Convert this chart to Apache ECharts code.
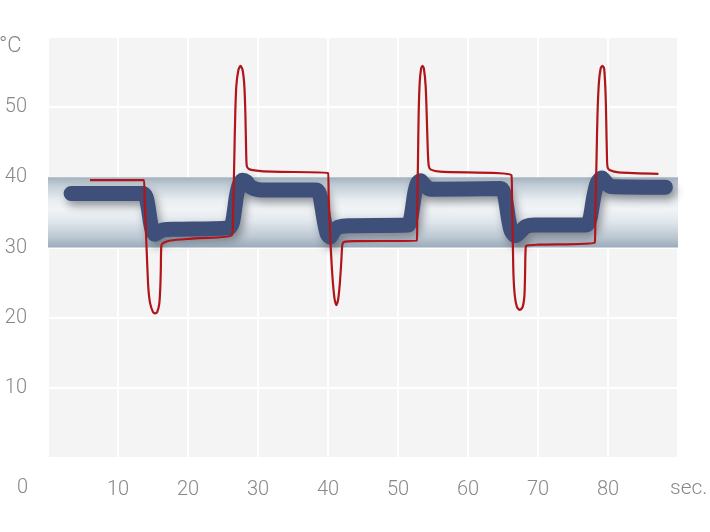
<!DOCTYPE html>
<html>
<head>
<meta charset="utf-8">
<script src="https://cdn.jsdelivr.net/npm/echarts@6/dist/echarts.min.js"></script>
<style>
html,body{margin:0;padding:0;background:#fff;}
#c{width:710px;height:532px;}
</style>
</head>
<body>
<div id="c"></div>
<script>
// Tick labels
var xTicks = [10, 20, 30, 40, 50, 60, 70, 80];
var yTicks = [10, 20, 30, 40, 50];
var yUnit = '°C';
var xUnit = 'sec.';
var zeroLabel = '0';

// Tolerance band (°C)
var bandLow = 30;
var bandHigh = 40;

// Controlled temperature (thick blue) [sec, °C]
var blueLine = [
  [3.3,37.7],[13.5,37.7],[14.0,37.2],[14.3,35.8],[14.6,33.8],[14.9,32.4],[15.3,31.9],[15.8,32.2],[16.5,32.5],[18.0,32.6],
  [25.8,32.8],[26.3,33.4],[26.6,35.0],[26.9,37.2],[27.3,38.9],[27.8,39.6],[28.3,39.4],[29.0,38.6],[30.5,38.2],
  [38.3,38.2],[38.8,37.6],[39.1,36.0],[39.5,33.6],[39.9,31.9],[40.3,31.5],[40.8,32.3],[41.5,32.9],[43.0,33.1],
  [51.4,33.2],[51.8,34.0],[52.1,35.8],[52.4,37.8],[52.8,39.2],[53.2,39.5],[53.8,38.9],[54.6,38.3],
  [64.7,38.4],[65.2,37.6],[65.5,36.0],[65.8,34.0],[66.2,32.3],[66.8,31.7],[67.5,32.3],[68.3,33.0],[69.5,33.2],
  [76.9,33.2],[77.4,34.0],[77.7,35.6],[78.0,37.4],[78.5,39.3],[79.1,39.9],[79.7,39.3],[80.4,38.7],[88.2,38.6]
];

// Heating/cooling input (thin red) [sec, °C]
var redLine = [
  [6.0,39.6],[13.7,39.6],[13.8,37.0],[14.0,32.0],[14.2,27.0],[14.35,24.0],[14.6,22.0],[15.0,20.8],[15.3,20.6],[15.6,20.8],[15.9,22.0],[16.05,24.5],[16.12,27.0],[16.2,30.3],[16.6,30.7],[17.5,31.0],
  [21.0,31.3],[26.3,31.8],
  [26.45,35.0],[26.6,42.0],[26.75,49.0],[26.9,53.0],[27.2,55.3],[27.5,55.9],[27.8,55.3],[28.05,53.0],[28.2,49.0],[28.3,44.0],[28.4,41.6],[28.7,41.2],[29.5,41.0],[32.0,40.8],
  [40.0,40.6],[40.1,37.0],[40.3,32.0],[40.5,28.0],[40.7,25.0],[40.95,22.6],[41.2,21.8],[41.45,22.6],[41.7,25.0],[41.9,28.0],[42.05,30.4],[42.3,30.8],[44.0,30.9],
  [52.7,31.0],[52.75,35.0],[52.85,42.0],[52.95,49.0],[53.1,53.5],[53.3,55.5],[53.5,55.9],[53.7,55.5],[53.95,53.0],[54.1,49.0],[54.25,44.0],[54.4,41.6],[54.7,41.1],[56.0,40.8],
  [66.2,40.3],[66.3,36.0],[66.4,31.0],[66.5,26.0],[66.7,23.0],[67.0,21.5],[67.4,21.1],[67.8,21.5],[68.05,23.0],[68.15,26.0],[68.25,30.1],[68.5,30.3],[70.0,30.4],
  [78.1,30.7],[78.2,35.0],[78.35,42.0],[78.5,49.0],[78.7,53.5],[78.95,55.5],[79.2,55.9],[79.45,55.5],[79.65,52.0],[79.75,48.0],[79.85,43.0],[79.95,41.4],[80.3,41.0],[81.5,40.7],[87.2,40.5]
];

var fontFam = 'Roboto, "Liberation Sans", sans-serif';
var labelFont = {color:'#888888', fontSize:20, fontFamily:fontFam, fontWeight:300};

var chart = echarts.init(document.getElementById('c'), null, {renderer:'canvas'});
chart.setOption({
  animation:false,
  backgroundColor:'#ffffff',
  grid:{left:48, right:32, top:37, bottom:74, show:true, backgroundColor:'#f4f4f4', borderWidth:0},
  xAxis:{
    type:'value', min:0, max:90, interval:10,
    axisLine:{show:false}, axisTick:{show:false},
    splitLine:{show:true, lineStyle:{color:'#ffffff', width:2}},
    axisLabel:Object.assign({margin:22, formatter:function(v){return xTicks.indexOf(v)>=0?String(v):'';}}, labelFont)
  },
  yAxis:{
    type:'value', min:0, max:60, interval:10,
    axisLine:{show:false}, axisTick:{show:false},
    splitLine:{show:true, lineStyle:{color:'#ffffff', width:2}},
    axisLabel:Object.assign({margin:21, padding:[0,0,11,0], formatter:function(v){return yTicks.indexOf(v)>=0?String(v):'';}}, labelFont)
  },
  graphic:[
    {type:'text', left:-1, top:35, style:{text:yUnit, fill:'#888888', fontSize:22, fontFamily:fontFam, fontWeight:300}},
    {type:'text', left:17, top:478, style:{text:zeroLabel, fill:'#888888', fontSize:20, fontFamily:fontFam, fontWeight:300}},
    {type:'text', left:670, top:478, style:{text:xUnit, fill:'#888888', fontSize:21, fontFamily:fontFam, fontWeight:300}}
  ],
  series:[
    {
      type:'line', data:[], z:1, silent:true,
      markArea:{
        silent:true,
        itemStyle:{color:{type:'linear', x:0, y:0, x2:0, y2:1, colorStops:[
          {offset:0, color:'#a3b2bf'},
          {offset:0.12, color:'#c3ced7'},
          {offset:0.32, color:'#e8edf1'},
          {offset:0.45, color:'#f1f4f6'},
          {offset:0.62, color:'#e2e8ed'},
          {offset:0.85, color:'#bcc8d3'},
          {offset:1, color:'#9aabba'}
        ]}},
        data:[[{yAxis:bandLow, xAxis:0},{yAxis:bandHigh, xAxis:90}]]
      }
    },
    {
      type:'line', data:blueLine, z:3, showSymbol:false, smooth:0.3,
      lineStyle:{color:'#3e5079', width:15, cap:'round', join:'round',
        shadowColor:'rgba(40,40,50,0.45)', shadowBlur:9, shadowOffsetX:3, shadowOffsetY:5}
    },
    {
      type:'line', data:redLine, z:4, showSymbol:false, smooth:0.25,
      lineStyle:{color:'#b0151a', width:2.2}
    }
  ]
});
</script>
</body>
</html>
